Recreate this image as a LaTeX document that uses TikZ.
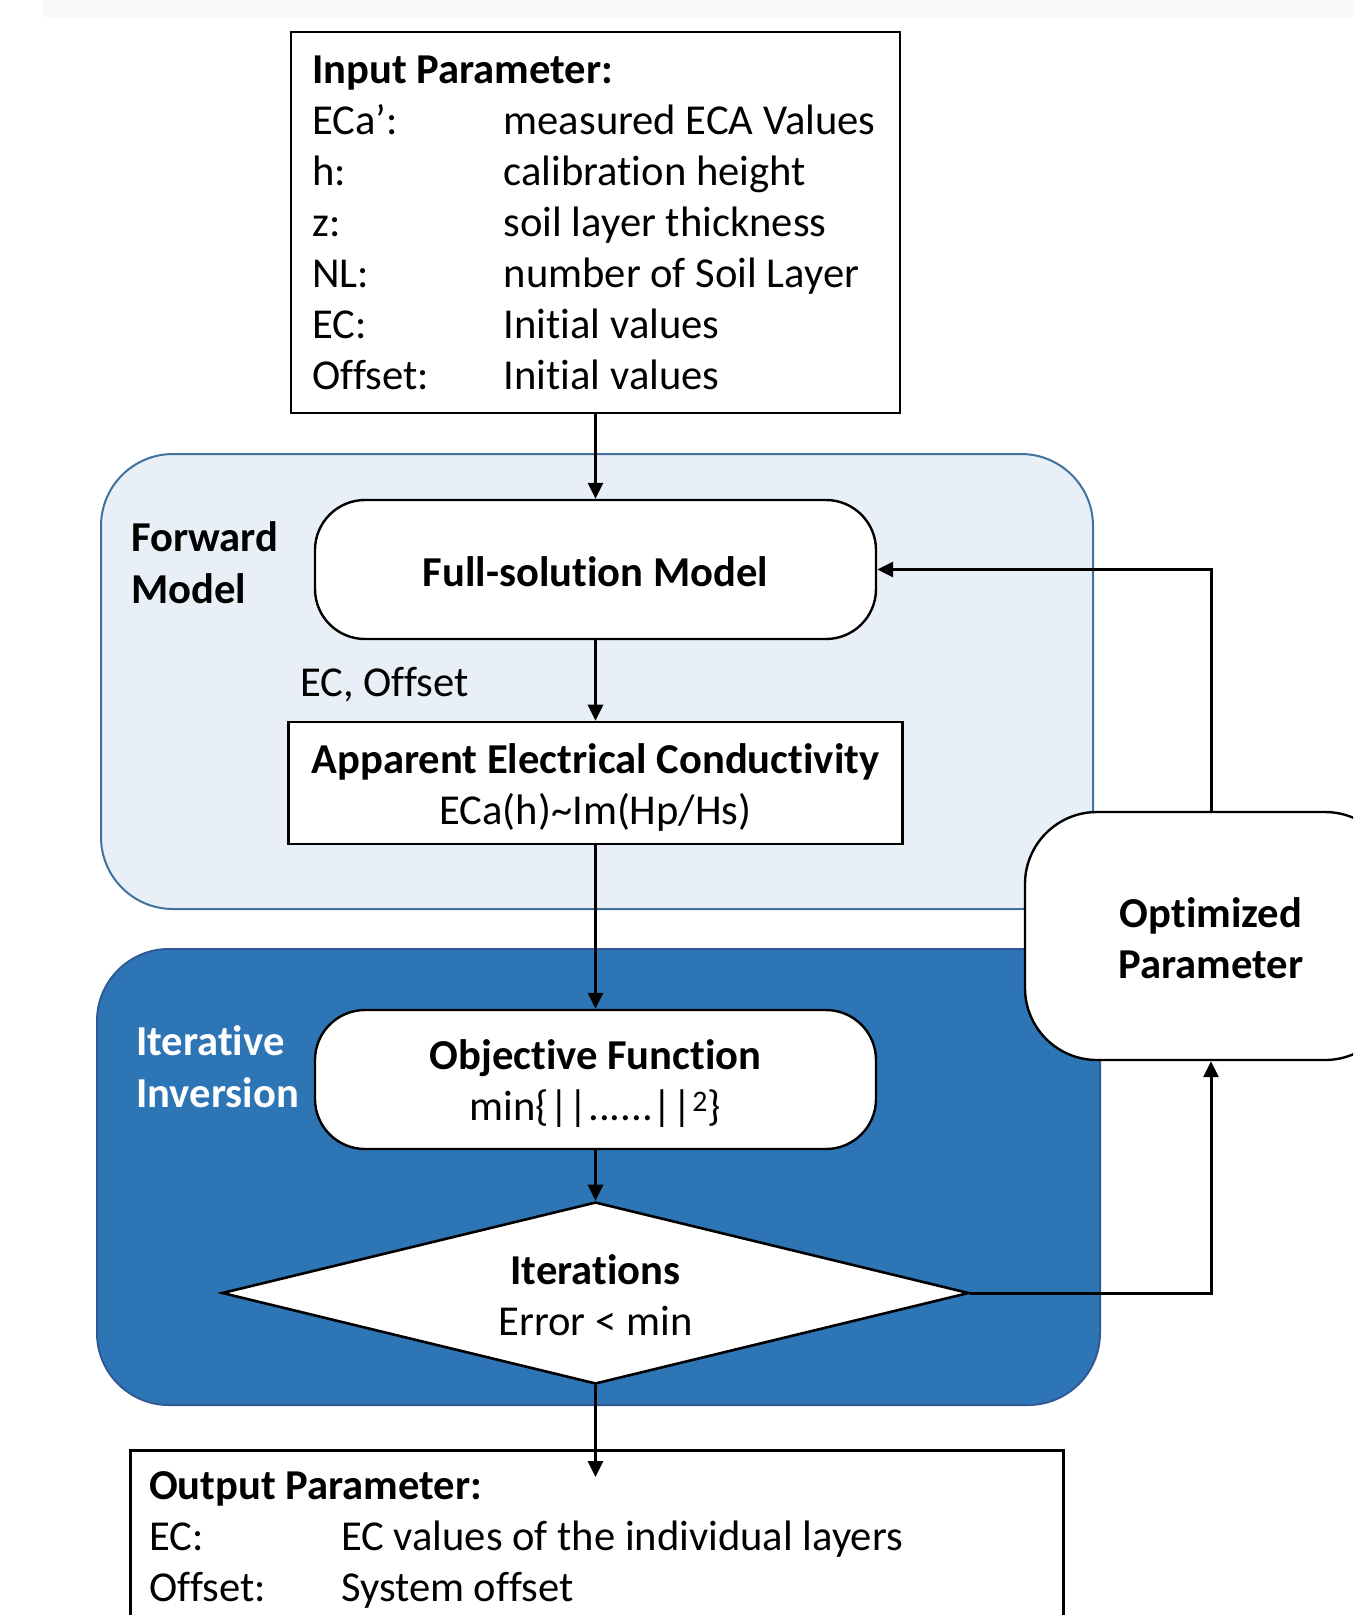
\documentclass[tikz,border=0pt]{standalone}
\usepackage{fontspec}
\setmainfont{Carlito}[Ligatures=CommonOff]
\usetikzlibrary{arrows.meta,shapes.geometric}

\definecolor{fwdfill}{RGB}{233,239,247}
\definecolor{fwdline}{RGB}{65,113,156}
\definecolor{invfill}{RGB}{46,117,182}
\definecolor{invline}{RGB}{47,90,150}
\definecolor{stripgray}{RGB}{248,248,248}

% multi-line text whose reference point is the first baseline
\newcommand\toprows[1]{\begin{tabular}[t]{@{}l@{}}#1\end{tabular}}

\tikzset{
  every node/.style={font=\fontsize{42.6}{51}\selectfont, inner sep=0pt},
  box/.style={rectangle, draw=black, line width=2.6pt, fill=white},
  pill/.style={rectangle, draw=black, line width=2.4pt, fill=white, rounded corners=50pt},
  flow/.style={line width=3pt, -{Triangle[length=16pt,width=15pt]}},
  grouplabel/.style={anchor=base west, font=\fontsize{42.6}{52}\selectfont\bfseries},
  panel/.style={line width=2pt, rounded corners=72pt},
  inner text/.style={align=center},
}

\begin{document}
\begin{tikzpicture}[x=1pt,y=-1pt]
  \path[use as bounding box] (0,0) rectangle (1353,1615);
  \clip (0,0) rectangle (1353,1615);

  % faint strip along the top edge
  \fill[stripgray] (43,0) rectangle (1353,17);

  % grouping panels
  \draw[panel, draw=fwdline, fill=fwdfill] (101,454) rectangle (1093,909);
  \draw[panel, draw=invline, fill=invfill] (97,949) rectangle (1100,1405);

  \node[grouplabel] (fwdlabel) at (131,551.7) {\toprows{Forward\\Model}};
  \node[grouplabel, text=white] (invlabel) at (136,1055) {\toprows{Iterative\\Inversion}};

  % input parameters
  \node[box, minimum width=609pt, minimum height=381pt] (input) at (595.5,222.5) {};
  \node[anchor=base west] (inputtext) at (312,83) {%
    \begin{tabular}[t]{@{}p{191.5pt}@{}l@{}}
      \multicolumn{2}{@{}l@{}}{\bfseries Input Parameter:}\\
      ECa’: & measured ECA Values\\
      h: & calibration height\\
      z: & soil layer thickness\\
      NL: & number of Soil Layer\\
      EC: & Initial values\\
      Offset: & Initial values
    \end{tabular}};

  % forward model
  \node[pill, minimum width=561pt, minimum height=139pt] (full) at (595.5,569.5) {};
  \node[inner text] (fulltext) at (595.5,572) {\bfseries Full-solution Model};
  \node[anchor=base west] (ecoffset) at (300,696) {EC, Offset};
  \node[box, minimum width=614pt, minimum height=122pt] (aec) at (595.5,783) {};
  \node[inner text] (aectext) at (595.5,787.5)
    {\bfseries Apparent Electrical Conductivity\\ ECa(h)\textasciitilde Im(Hp/Hs)};

  % iterative inversion
  \node[pill, minimum width=561pt, minimum height=139pt] (obj) at (595.5,1079.5) {};
  \node[inner text] (objtext) at (595.5,1084)
    {\bfseries Objective Function\\ min\{||......||\textsuperscript{2}\}};
  \node[diamond, draw=black, line width=2.6pt, fill=white, aspect=4.1,
        minimum width=747pt, minimum height=182pt] (iter) at (595.5,1293) {};
  \node[inner text] (itertext) at (595.5,1295.5) {\bfseries Iterations\\ Error < min};

  % optimized parameter feedback
  \node[pill, rounded corners=72pt, minimum width=372pt, minimum height=248pt] (opt) at (1211,936) {};
  \node[inner text] (opttext) at (1211,938.5) {\bfseries Optimized\\ \bfseries Parameter};

  % output parameters
  \node[box, anchor=north west, minimum width=933pt, minimum height=260pt] (output) at (129,1449) {};
  \node[anchor=base west] (outputtext) at (149,1499) {%
    \begin{tabular}[t]{@{}p{192pt}@{}l@{}}
      \multicolumn{2}{@{}l@{}}{\bfseries Output Parameter:}\\
      EC: & EC values of the individual layers\\
      Offset: & System offset
    \end{tabular}};
  \coordinate (outtip) at (595.5,1477);

  % connectors
  \draw[flow] (input) -- (full);
  \draw[flow] (full) -- (aec);
  \draw[flow] (aec) -- (obj);
  \draw[flow] (obj) -- (iter);
  \draw[flow] (iter.south) -- (outtip);
  \draw[flow] (iter.east) -| (opt.south);
  \draw[flow] (opt.north) |- (full.east);
\end{tikzpicture}
\end{document}
